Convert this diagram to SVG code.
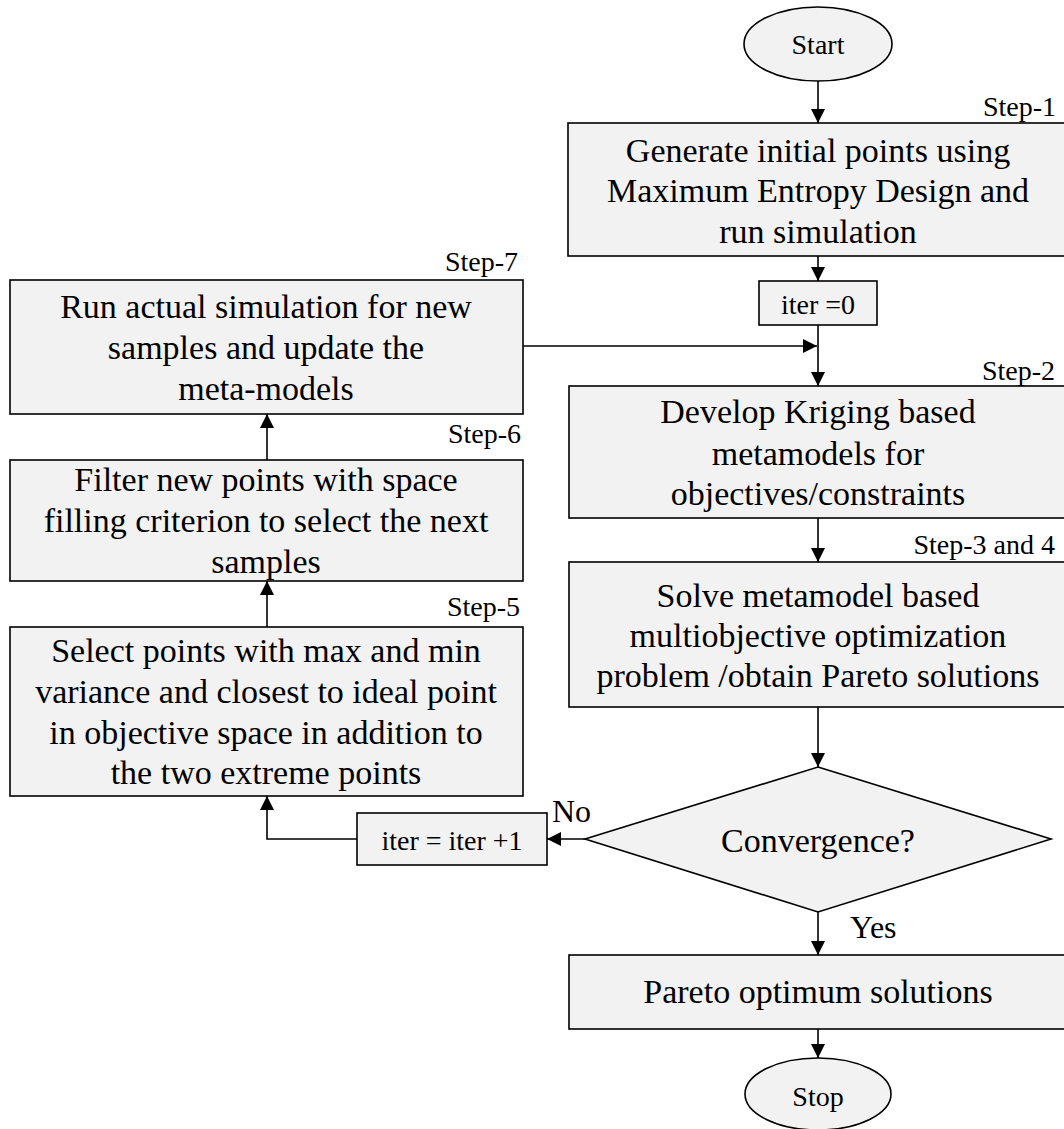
<svg xmlns="http://www.w3.org/2000/svg" width="1064" height="1129" viewBox="0 0 1064 1129">
<style>
.box{fill:#f2f2f2;stroke:#000;stroke-width:1.6}
.t{font-family:"Liberation Serif","Times New Roman",serif;font-size:34px;fill:#000;text-anchor:middle}
.s{font-family:"Liberation Serif","Times New Roman",serif;font-size:28px;fill:#000;text-anchor:end}
.m{font-family:"Liberation Serif","Times New Roman",serif;font-size:28px;fill:#000;text-anchor:middle}
.l{font-family:"Liberation Serif","Times New Roman",serif;font-size:32px;fill:#000}
.c{fill:none;stroke:#000;stroke-width:1.6}
</style>
<defs>
<marker id="ah" viewBox="0 0 10 10" refX="10" refY="5" markerWidth="14" markerHeight="14" markerUnits="userSpaceOnUse" orient="auto">
<path d="M0,0 L10,5 L0,10 z" fill="#000"/>
</marker>
</defs>
<g id="connectors">
<line class="c" x1="818" y1="81" x2="818" y2="123" marker-end="url(#ah)"/>
<line class="c" x1="818" y1="256" x2="818" y2="281" marker-end="url(#ah)"/>
<line class="c" x1="818" y1="325" x2="818" y2="386" marker-end="url(#ah)"/>
<line class="c" x1="523" y1="346" x2="817" y2="346" marker-end="url(#ah)"/>
<line class="c" x1="818" y1="518" x2="818" y2="562" marker-end="url(#ah)"/>
<line class="c" x1="818" y1="707" x2="818" y2="767" marker-end="url(#ah)"/>
<line class="c" x1="818" y1="912" x2="818" y2="955" marker-end="url(#ah)"/>
<line class="c" x1="818" y1="1029" x2="818" y2="1058" marker-end="url(#ah)"/>
<line class="c" x1="585" y1="839" x2="547" y2="839" marker-end="url(#ah)"/>
<polyline class="c" points="357,839 267,839 267,796" marker-end="url(#ah)"/>
<line class="c" x1="267" y1="627" x2="267" y2="581" marker-end="url(#ah)"/>
<line class="c" x1="267" y1="460" x2="267" y2="414" marker-end="url(#ah)"/>
</g>
<g id="start">
<ellipse class="box" cx="818" cy="44" rx="74" ry="37"/>
<text class="m" x="818" y="54">Start</text>
</g>
<g id="step1">
<rect class="box" x="568" y="123" width="510" height="133"/>
<text class="s" x="1056" y="116">Step-1</text>
<text class="t" x="818" y="162">Generate initial points using</text>
<text class="t" x="818" y="202">Maximum Entropy Design and</text>
<text class="t" x="818" y="243">run simulation</text>
</g>
<g id="iter0">
<rect class="box" x="759" y="281" width="118" height="44"/>
<text class="m" x="818" y="314">iter =0</text>
</g>
<g id="step2">
<rect class="box" x="569" y="386" width="510" height="132"/>
<text class="s" x="1055" y="380">Step-2</text>
<text class="t" x="818" y="423">Develop Kriging based</text>
<text class="t" x="818" y="465">metamodels for</text>
<text class="t" x="818" y="505">objectives/constraints</text>
</g>
<g id="step3">
<rect class="box" x="569" y="562" width="510" height="145"/>
<text class="s" x="1055" y="554">Step-3 and 4</text>
<text class="t" x="818" y="607">Solve metamodel based</text>
<text class="t" x="818" y="647">multiobjective optimization</text>
<text class="t" x="818" y="687">problem /obtain Pareto solutions</text>
</g>
<g id="convergence">
<polygon class="box" points="818,767 1051,839 818,912 585,839"/>
<text class="t" x="818" y="852">Convergence?</text>
<text class="l" x="552" y="822">No</text>
<text class="l" x="850" y="938">Yes</text>
</g>
<g id="pareto">
<rect class="box" x="569" y="955" width="510" height="74"/>
<text class="t" x="818" y="1003">Pareto optimum solutions</text>
</g>
<g id="stop">
<ellipse class="box" cx="818" cy="1094" rx="73" ry="36"/>
<text class="m" x="818" y="1106">Stop</text>
</g>
<g id="iterinc">
<rect class="box" x="357" y="813" width="190" height="52"/>
<text class="m" x="452" y="850">iter = iter +1</text>
</g>
<g id="step5">
<rect class="box" x="10" y="627" width="513" height="169"/>
<text class="s" x="520" y="616">Step-5</text>
<text class="t" x="266" y="662">Select points with max and min</text>
<text class="t" x="266" y="703">variance and closest to ideal point</text>
<text class="t" x="266" y="744">in objective space in addition to</text>
<text class="t" x="266" y="784">the two extreme points</text>
</g>
<g id="step6">
<rect class="box" x="10" y="460" width="513" height="121"/>
<text class="s" x="521" y="443">Step-6</text>
<text class="t" x="266" y="491">Filter new points with space</text>
<text class="t" x="266" y="532">filling criterion to select the next</text>
<text class="t" x="266" y="573">samples</text>
</g>
<g id="step7">
<rect class="box" x="10" y="280" width="513" height="134"/>
<text class="s" x="518" y="271">Step-7</text>
<text class="t" x="266" y="318">Run actual simulation for new</text>
<text class="t" x="266" y="359">samples and update the</text>
<text class="t" x="266" y="400">meta-models</text>
</g>
</svg>
